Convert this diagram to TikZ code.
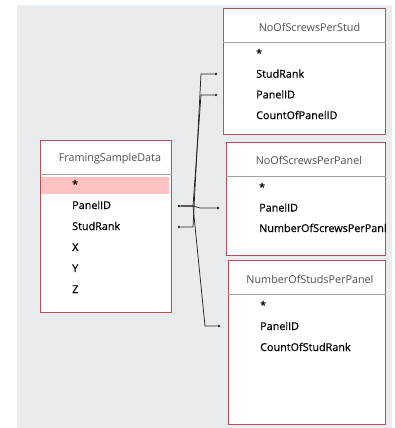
\documentclass[tikz,border=0pt]{standalone}
\usepackage{fontspec}
\setmainfont{Open Sans}
\newfontfamily\fieldfont{Open Sans}[FakeBold=0.6]
\usepackage{xcolor}
\usetikzlibrary{positioning}

\definecolor{boxred}{RGB}{190,78,84}
\definecolor{rowpink}{RGB}{255,194,194}
\definecolor{bggray}{RGB}{233,236,239}
\definecolor{sepgray}{RGB}{160,160,160}
\definecolor{titlegray}{RGB}{80,80,80}
\definecolor{linegray}{RGB}{35,35,35}

\begin{document}
\begin{tikzpicture}[x=1pt,y=-1pt,
  table/.style = {draw=boxred, fill=white, line width=0.9pt, inner sep=0pt, anchor=north west},
  sep/.style = {draw=sepgray, line width=0.8pt},
  title/.style = {text=titlegray, inner sep=0pt, font=\fontsize{10.8}{12}\selectfont},
  field/.style = {anchor=base west, inner sep=0pt, text=black, font=\fieldfont\fontsize{10.8}{12}\selectfont},
  link/.style = {draw=linegray, line width=0.75pt},
  pin/.style = {circle, fill=linegray, inner sep=0pt, minimum size=2.6pt}]
\useasboundingbox (0,0) rectangle (394,428);
\fill[white] (0,0) rectangle (394,428);
\fill[bggray] (17,5) rectangle (392,428);

% tables
\node[table, minimum width=131pt, minimum height=172pt] (fsd) at (40,140) {};
\node[table, minimum width=162pt, minimum height=126pt] (nsps) at (223,8) {};
\node[table, minimum width=159pt, minimum height=113pt] (nspp) at (226,142) {};
\node[table, minimum width=157pt, minimum height=164pt] (nspn) at (228,260) {};

% header lines
\draw[sep] ([yshift=-34pt]fsd.north west) -- ([yshift=-34pt]fsd.north east);
\draw[sep] ([yshift=-34pt]nsps.north west) -- ([yshift=-34pt]nsps.north east);
\draw[sep] ([yshift=-34pt]nspp.north west) -- ([yshift=-34pt]nspp.north east);
\draw[sep] ([yshift=-34pt]nspn.north west) -- ([yshift=-34pt]nspn.north east);

% titles
\node[title] (fsdTitle) at ([xshift=4pt,yshift=-19pt]fsd.north) {FramingSampleData};
\node[title] (nspsTitle) at ([xshift=5pt,yshift=-19pt]nsps.north) {NoOfScrewsPerStud};
\node[title] (nsppTitle) at ([xshift=3pt,yshift=-18pt]nspp.north) {NoOfScrewsPerPanel};
\node[title] (nspnTitle) at ([xshift=3pt,yshift=-19pt]nspn.north) {NumberOfStudsPerPanel};

% selected row
\fill[rowpink] (41,177) rectangle (169,194);

% fields
\foreach \txt [count=\i from 0] in {*,PanelID,StudRank,X,Y,Z}
  \node[field] (fsd\i) at (72,188+21*\i) {\txt};
\foreach \txt [count=\i from 0] in {*,StudRank,PanelID,CountOfPanelID}
  \node[field] (nsps\i) at (256,57+20.7*\i) {\txt};
\begin{scope}
  \clip (nspp.south west) rectangle (nspp.north east);
  \foreach \txt [count=\i from 0] in {*,PanelID,NumberOfScrewsPerPanl}
    \node[field] (nspp\i) at (259,191+20.5*\i) {\txt};
\end{scope}
\foreach \txt [count=\i from 0] in {*,PanelID,CountOfStudRank}
  \node[field] (nspn\i) at (260,309+21*\i) {\txt};

% join ends
\node[pin] (fsdPanelOut) at (179,206) {};
\node[pin] (fsdRankOut) at (179,227) {};
\node[pin] (nspsRankIn) at (216,74) {};
\node[pin] (nspsPanelIn) at (216,95) {};
\node[pin] (nsppPanelIn) at (218,208) {};
\node[pin] (nspnPanelIn) at (219,326) {};

% joins
\draw[link] (fsdRankOut) -- ++(14,0) -- ([xshift=-15pt]nspsRankIn.center) -- (nspsRankIn);
\draw[link] (fsdPanelOut) -- ++(14,0) -- ([xshift=-15pt]nspsPanelIn.center) -- (nspsPanelIn);
\draw[link] (fsdPanelOut) -- ++(14,0) -- ([xshift=-18pt]nsppPanelIn.center) -- (nsppPanelIn);
\draw[link] (fsdPanelOut) -- ++(14,0) -- ([xshift=-14pt]nspnPanelIn.center) -- (nspnPanelIn);
\end{tikzpicture}
\end{document}
